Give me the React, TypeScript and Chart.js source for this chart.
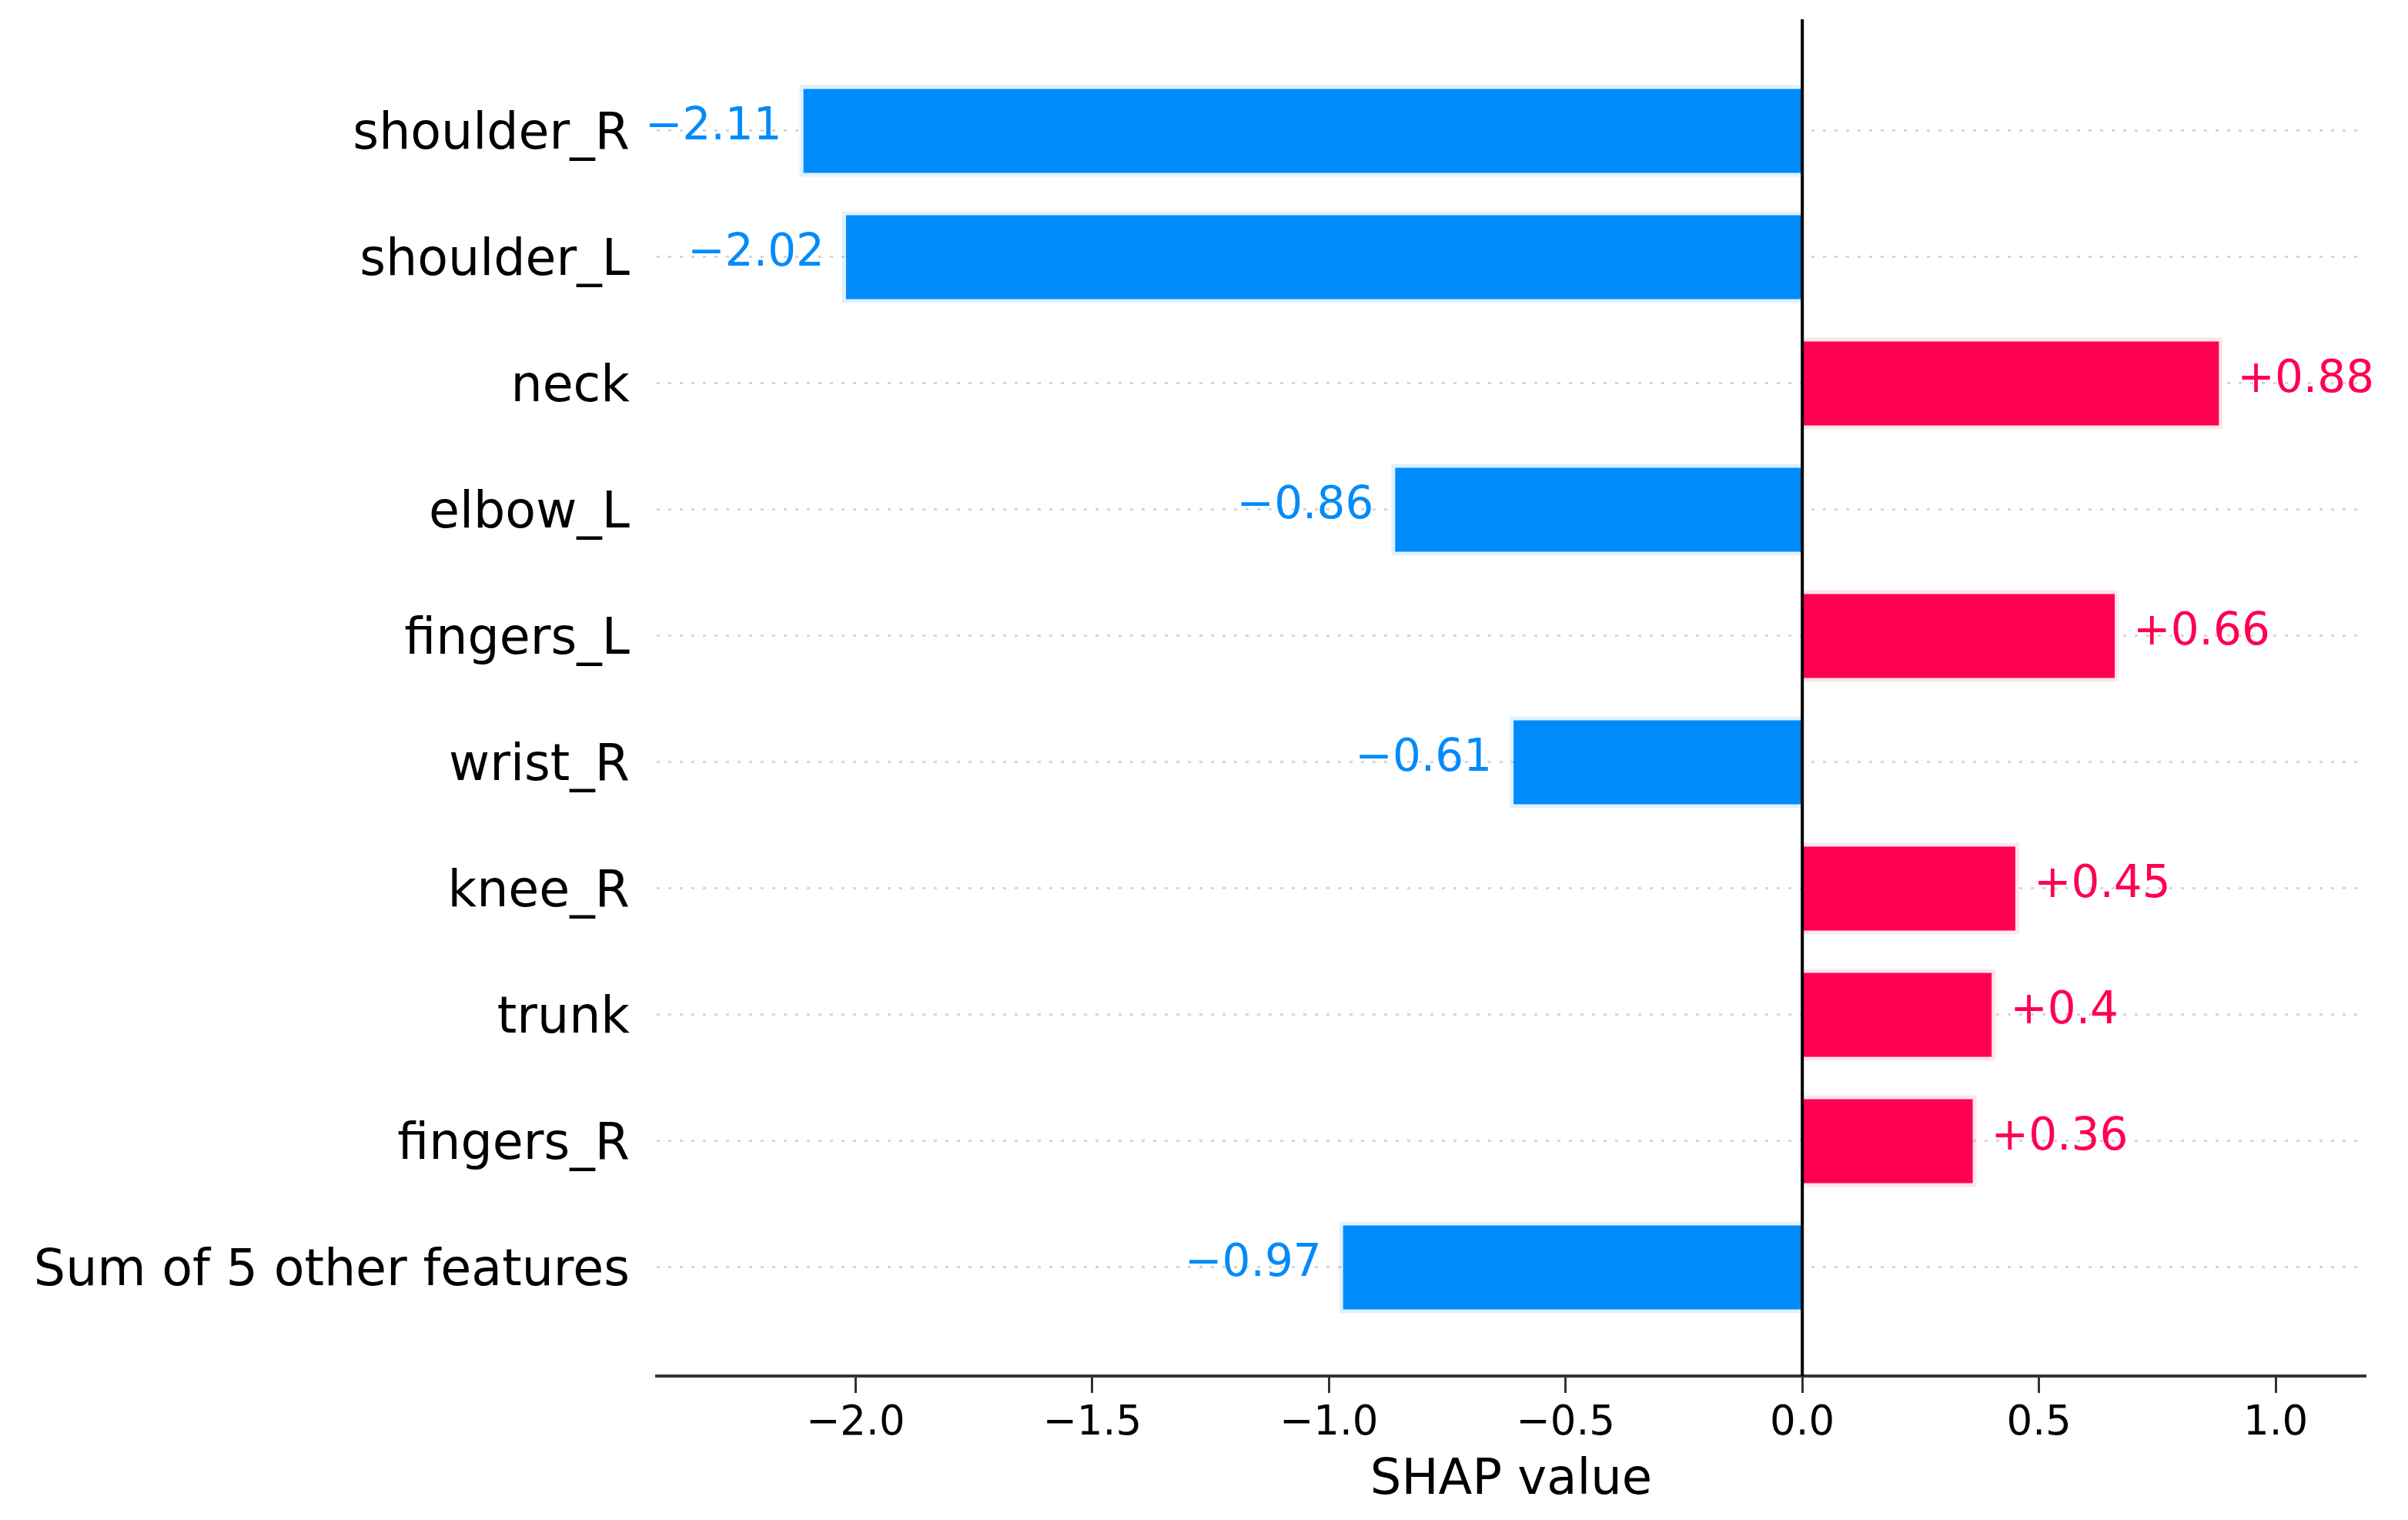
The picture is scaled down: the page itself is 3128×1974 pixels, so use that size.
import React, { useEffect, useRef } from "react";
import { Chart, registerables } from "chart.js";

Chart.register(...registerables);

const features = [
  "shoulder_R",
  "shoulder_L",
  "neck",
  "elbow_L",
  "fingers_L",
  "wrist_R",
  "knee_R",
  "trunk",
  "fingers_R",
  "Sum of 5 other features",
];
const shapValues = [-2.11, -2.02, 0.88, -0.86, 0.66, -0.61, 0.45, 0.4, 0.36, -0.97];
const valueLabels = ["−2.11", "−2.02", "+0.88", "−0.86", "+0.66", "−0.61", "+0.45", "+0.4", "+0.36", "−0.97"];
const xTicks = [-2.0, -1.5, -1.0, -0.5, 0.0, 0.5, 1.0];
const xTickLabels = ["−2.0", "−1.5", "−1.0", "−0.5", "0.0", "0.5", "1.0"];
const xTitle = "SHAP value";

const BLUE = "#008bfb";
const RED = "#ff0051";
const BLUE_FRINGE = "rgba(0,139,251,0.12)";
const RED_FRINGE = "rgba(255,0,81,0.10)";
const FONT = '"DejaVu Sans", sans-serif';

const shapPlugin = {
  id: "shapDecor",
  beforeDatasetsDraw(chart: any) {
    const meta = chart.getDatasetMeta(0);
    const ctx = chart.ctx;
    ctx.save();
    meta.data.forEach((bar: any, i: number) => {
      const { x, y, base, height } = bar.getProps(["x", "y", "base", "height"], true);
      const v = shapValues[i];
      const e = 5;
      ctx.fillStyle = v < 0 ? BLUE_FRINGE : RED_FRINGE;
      if (v < 0) {
        ctx.fillRect(x - e, y - height / 2 - e, base - x + e, height + 2 * e);
      } else {
        ctx.fillRect(base, y - height / 2 - e, x - base + e, height + 2 * e);
      }
    });
    ctx.restore();
  },
  afterDatasetsDraw(chart: any) {
    const meta = chart.getDatasetMeta(0);
    const ctx = chart.ctx;
    const area = chart.chartArea;
    const xs = chart.scales.x;
    ctx.save();
    const zx = xs.getPixelForValue(0);
    ctx.strokeStyle = "#000";
    ctx.lineWidth = 4;
    ctx.beginPath();
    ctx.moveTo(zx, area.top);
    ctx.lineTo(zx, area.bottom);
    ctx.stroke();
    ctx.font = `58px ${FONT}`;
    ctx.textBaseline = "middle";
    meta.data.forEach((bar: any, i: number) => {
      const { x, y } = bar.getProps(["x", "y"], true);
      const v = shapValues[i];
      if (v < 0) {
        ctx.textAlign = "right";
        ctx.fillStyle = BLUE;
        ctx.fillText(valueLabels[i], x - 28, y - 4);
      } else {
        ctx.textAlign = "left";
        ctx.fillStyle = RED;
        ctx.fillText(valueLabels[i], x + 24, y - 4);
      }
    });
    ctx.restore();
  },
};

export default function App() {
  const canvasRef = useRef<HTMLCanvasElement | null>(null);

  useEffect(() => {
    document.body.style.margin = "0";
    document.body.style.background = "#fff";
    const canvas = canvasRef.current;
    if (!canvas) return;
    const chart = new Chart(canvas, {
      type: "bar",
      data: {
        labels: features,
        datasets: [
          {
            data: shapValues.map((v, i) => ({ x: v, y: i })) as any,
            backgroundColor: shapValues.map((v) => (v < 0 ? BLUE : RED)),
            borderWidth: 0,
            categoryPercentage: 1,
            barPercentage: 0.665,
          } as any,
        ],
      },
      options: {
        indexAxis: "y",
        responsive: false,
        animation: false,
        devicePixelRatio: 1,
        layout: { padding: { top: 25, right: 55, left: 0, bottom: 0 } },
        plugins: {
          legend: { display: false },
          tooltip: { enabled: false },
        },
        scales: {
          x: {
            type: "linear",
            min: -2.42,
            max: 1.19,
            offset: false,
            afterBuildTicks: (s: any) => {
              s.ticks = xTicks.map((v) => ({ value: v }));
            },
            afterFit: (s: any) => {
              s.height = 187;
              s.paddingLeft = 0;
              s.paddingRight = 0;
            },
            ticks: {
              callback: (_v: any, i: number) => xTickLabels[i],
              font: { family: FONT, size: 53 },
              color: "#000",
              padding: 8,
              maxRotation: 0,
              autoSkip: false,
            },
            grid: {
              color: "rgba(0,0,0,0)",
              drawOnChartArea: false,
              drawTicks: true,
              tickLength: 22,
              tickWidth: 3,
              tickColor: "#333",
              offset: false,
            },
            border: { display: true, color: "#333", width: 4 },
            title: {
              display: true,
              text: xTitle,
              font: { family: FONT, size: 64 },
              color: "#000",
              padding: { top: 0, bottom: 12 },
            },
          },
          y: {
            type: "linear",
            reverse: true,
            min: -0.884,
            max: 9.86,
            offset: false,
            afterBuildTicks: (s: any) => {
              s.ticks = features.map((_f, i) => ({ value: i }));
            },
            afterFit: (s: any) => {
              s.width = 853;
              s.paddingTop = 0;
              s.paddingBottom = 0;
            },
            ticks: {
              callback: (_v: any, i: number) => features[i],
              font: { family: FONT, size: 65 },
              color: "#000",
              padding: 35,
              autoSkip: false,
              labelOffset: 6,
            },
            grid: {
              color: "#d6d6d6",
              lineWidth: 3,
              drawTicks: false,
              offset: false,
            },
            border: { display: false, dash: [4, 11] },
          },
        },
      } as any,
      plugins: [shapPlugin],
    });
    return () => chart.destroy();
  }, []);

  return (
    <div style={{ width: 3128, height: 1974, background: "#fff" }}>
      <canvas ref={canvasRef} width={3128} height={1974} style={{ display: "block" }} />
    </div>
  );
}
